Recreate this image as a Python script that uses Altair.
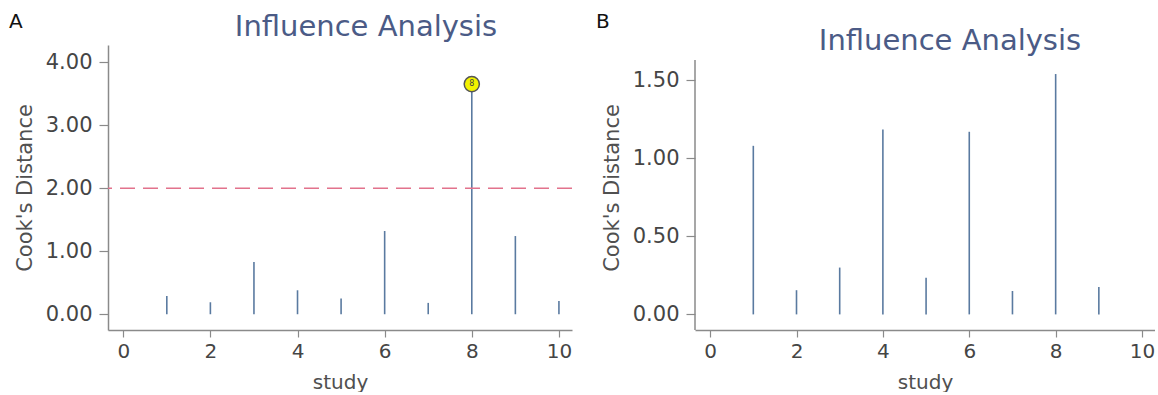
import altair as alt
import pandas as pd

# ---- data ----
study_a = [1, 2, 3, 4, 5, 6, 7, 8, 9, 10]
cooks_a = [0.29, 0.19, 0.83, 0.38, 0.25, 1.32, 0.18, 3.65, 1.24, 0.21]
study_b = [1, 2, 3, 4, 5, 6, 7, 8, 9]
cooks_b = [1.08, 0.155, 0.30, 1.185, 0.235, 1.17, 0.15, 1.54, 0.175]
outlier_study = [8]
outlier_value = [3.65]
threshold = [2.0]
x_ticks = [0, 2, 4, 6, 8, 10]
y_ticks_a = [0, 1, 2, 3, 4]
y_ticks_b = [0, 0.5, 1.0, 1.5]

FONT = "DejaVu Sans"
STEM = "#5a7aa0"
TITLE_COLOR = "#4b5b86"

df_a = pd.DataFrame({"study": study_a, "cooks": cooks_a, "zero": 0.0})
df_b = pd.DataFrame({"study": study_b, "cooks": cooks_b, "zero": 0.0})
df_out = pd.DataFrame({"study": outlier_study, "cooks": outlier_value,
                       "lab": [str(s) for s in outlier_study]})
df_thr = pd.DataFrame({"y": threshold})

W_A, W_B, H = 464, 460, 285

def x_axis():
    return alt.Axis(values=x_ticks, title="study", grid=False, domainColor="#8a8a8a",
                    domainWidth=1.5, tickColor="#8a8a8a", tickSize=7, tickWidth=1.2,
                    labelFontSize=20, labelColor="#454545", labelFont=FONT, labelPadding=4,
                    titleFont=FONT, titleFontSize=20, titleFontWeight="normal",
                    titleColor="#505050", titlePadding=11)

def y_axis(vals, domain=True):
    return alt.Axis(values=vals, format=".2f", title="Cook's Distance", grid=False,
                    domain=domain, domainColor="#8a8a8a", domainWidth=1.5,
                    tickColor="#8a8a8a", tickSize=9, tickWidth=1.2,
                    labelFontSize=21, labelColor="#454545", labelFont=FONT, labelPadding=7,
                    titleFont=FONT, titleFontSize=21, titleFontWeight="normal",
                    titleColor="#505050", titlePadding=10)

xs = alt.Scale(domain=[-0.35, 10.3], nice=False, zero=False)

# ---- panel A ----
ys_a = alt.Scale(domain=[-0.25, 4.27], nice=False, zero=False)
base_a = alt.Chart(df_a)
stems_a = base_a.mark_rule(color=STEM, strokeWidth=1.6).encode(
    x=alt.X("study:Q", scale=xs, axis=x_axis()),
    y=alt.Y("zero:Q", scale=ys_a, axis=y_axis(y_ticks_a)),
    y2="cooks:Q",
)
thr_a = alt.Chart(df_thr).mark_rule(color="#e2728c", strokeWidth=1.5, strokeDash=[15, 8]).encode(
    y=alt.Y("y:Q", scale=ys_a)
)
pt_a = alt.Chart(df_out).mark_point(filled=True, shape="circle", size=230, color="#f2f200",
                                    stroke="#555555", strokeWidth=1.5, opacity=1).encode(
    x=alt.X("study:Q", scale=xs), y=alt.Y("cooks:Q", scale=ys_a)
)
lab_a = alt.Chart(df_out).mark_text(fontSize=8, color="#444444", font=FONT).encode(
    x=alt.X("study:Q", scale=xs), y=alt.Y("cooks:Q", scale=ys_a), text="lab:N"
)
tag_a = alt.Chart(pd.DataFrame({"t": ["A"]})).mark_text(
    fontSize=20, font=FONT, color="#111111", align="left", baseline="middle"
).encode(x=alt.value(-99), y=alt.value(-23), text="t:N")
panel_a = alt.layer(stems_a, thr_a, pt_a, lab_a, tag_a).properties(
    width=W_A, height=H,
    title=alt.TitleParams("Influence Analysis", font=FONT, fontSize=29, fontWeight="normal",
                          color=TITLE_COLOR, anchor="middle", frame="group", offset=-30, dx=26),
)

# ---- panel B ----
ys_b = alt.Scale(domain=[-0.1, 1.726], nice=False, zero=False)
base_b = alt.Chart(df_b)
stems_b = base_b.mark_rule(color=STEM, strokeWidth=1.6).encode(
    x=alt.X("study:Q", scale=xs, axis=x_axis()),
    y=alt.Y("zero:Q", scale=ys_b, axis=y_axis(y_ticks_b, domain=False)),
    y2="cooks:Q",
)
yline_b = alt.Chart(pd.DataFrame({"t": [0]})).mark_rule(color="#8a8a8a", strokeWidth=1.5).encode(
    x=alt.value(0), y=alt.value(15), y2=alt.value(H)
)
tag_b = alt.Chart(pd.DataFrame({"t": ["B"]})).mark_text(
    fontSize=20, font=FONT, color="#111111", align="left", baseline="middle"
).encode(x=alt.value(-99), y=alt.value(-23), text="t:N")
panel_b = alt.layer(stems_b, yline_b, tag_b).properties(
    width=W_B, height=H,
    title=alt.TitleParams("Influence Analysis", font=FONT, fontSize=29, fontWeight="normal",
                          color=TITLE_COLOR, anchor="middle", frame="group", offset=-44, dx=25),
)

chart = alt.hconcat(panel_a, panel_b, spacing=123, bounds="flush").properties(
    padding={"left": 9, "top": 12, "right": 0, "bottom": 0},
    background="white",
).configure_view(stroke=None)

chart.save("out.html", embed_options={"renderer": "svg", "actions": False})
